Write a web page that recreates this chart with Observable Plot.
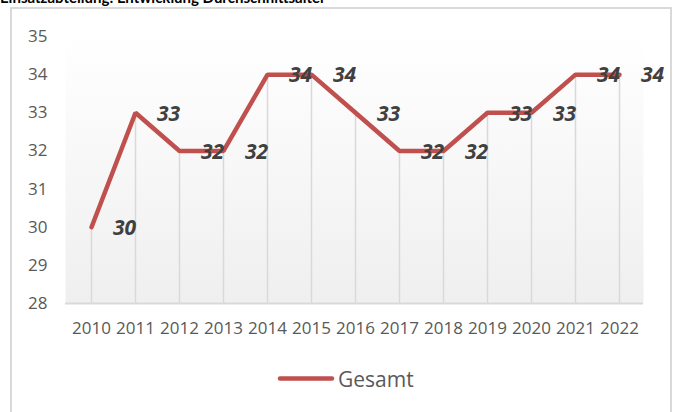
<!DOCTYPE html>
<html><head><meta charset="utf-8">
<script src="https://cdn.jsdelivr.net/npm/d3@7"></script>
<script src="https://cdn.jsdelivr.net/npm/@observablehq/plot@0.6"></script>
<style>
body{margin:0;background:#fff;width:673px;height:412px;overflow:hidden;position:relative;font-family:"Open Sans",sans-serif}
#title{position:absolute;left:0;top:-10px;font:bold 15px Lato,sans-serif;color:#000;white-space:nowrap;line-height:15px}
#frame{position:absolute;left:10px;top:7px;width:662px;height:430px;border:2px solid #d9d9d9;box-sizing:border-box}
#chart{position:absolute;left:0;top:0}
#legline{position:absolute;left:277px;top:375px}
#legtext{position:absolute;left:338px;top:365px;font-size:21px;line-height:28px;color:#595959}
</style></head>
<body>
<div id="title">Einsatzabteilung: Entwicklung Durchschnittsalter</div>
<div id="frame"></div>
<div id="chart"></div>
<svg id="legline" width="58" height="7"><line x1="3" y1="3.5" x2="55" y2="3.5" stroke="#c0504d" stroke-width="4.5" stroke-linecap="round"/></svg>
<div id="legtext"></div>
<script>
const years = [2010, 2011, 2012, 2013, 2014, 2015, 2016, 2017, 2018, 2019, 2020, 2021, 2022];
const values = [30, 33, 32, 32, 34, 34, 33, 32, 32, 33, 33, 34, 34];
const yTicks = [28, 29, 30, 31, 32, 33, 34, 35];
const seriesName = "Gesamt";

const data = years.map((year, i) => ({year, value: values[i]}));

const chart = Plot.plot({
  width: 673,
  height: 345,
  marginLeft: 65,
  marginRight: 30,
  marginTop: 36,
  marginBottom: 42,
  style: {background: "transparent", fontFamily: "'Open Sans', sans-serif", fontSize: "17px", color: "#595959", overflow: "visible"},
  x: {type: "point", domain: years, range: [89, 621], padding: 0, label: null},
  y: {domain: [28, 35], label: null},
  marks: [
    Plot.frame({fill: "url(#wallgrad)", stroke: "none"}),
    Plot.ruleX(data, {x: "year", y1: yTicks[0], y2: "value", stroke: "#d9d9d9", strokeWidth: 1.5}),
    Plot.ruleY([yTicks[0]], {stroke: "#d9d9d9", strokeWidth: 2}),
    Plot.lineY(data, {x: "year", y: "value", stroke: "#c0504d", strokeWidth: 4.5, strokeLinejoin: "miter"}),
    Plot.text(data, {x: "year", y: "value", text: d => String(d.value), dx: 33, dy: 1, fontSize: 21, fontWeight: "bold", fontStyle: "italic", fill: "#404040"}),
    Plot.axisY({ticks: yTicks, tickSize: 0, tickPadding: 18, tickFormat: d => String(d), fill: "#595959"}),
    Plot.axisX({tickSize: 0, tickPadding: 18, tickFormat: d => String(d), fill: "#595959"})
  ]
});

const svg = d3.select(chart);
const defs = svg.insert("defs", ":first-child");
const g = defs.append("linearGradient").attr("id", "wallgrad").attr("x1", 0).attr("y1", 0).attr("x2", 0).attr("y2", 1);
g.append("stop").attr("offset", "0%").attr("stop-color", "#ffffff");
g.append("stop").attr("offset", "100%").attr("stop-color", "#efefef");

document.getElementById("chart").appendChild(chart);
document.getElementById("legtext").textContent = seriesName;
</script>
</body></html>
